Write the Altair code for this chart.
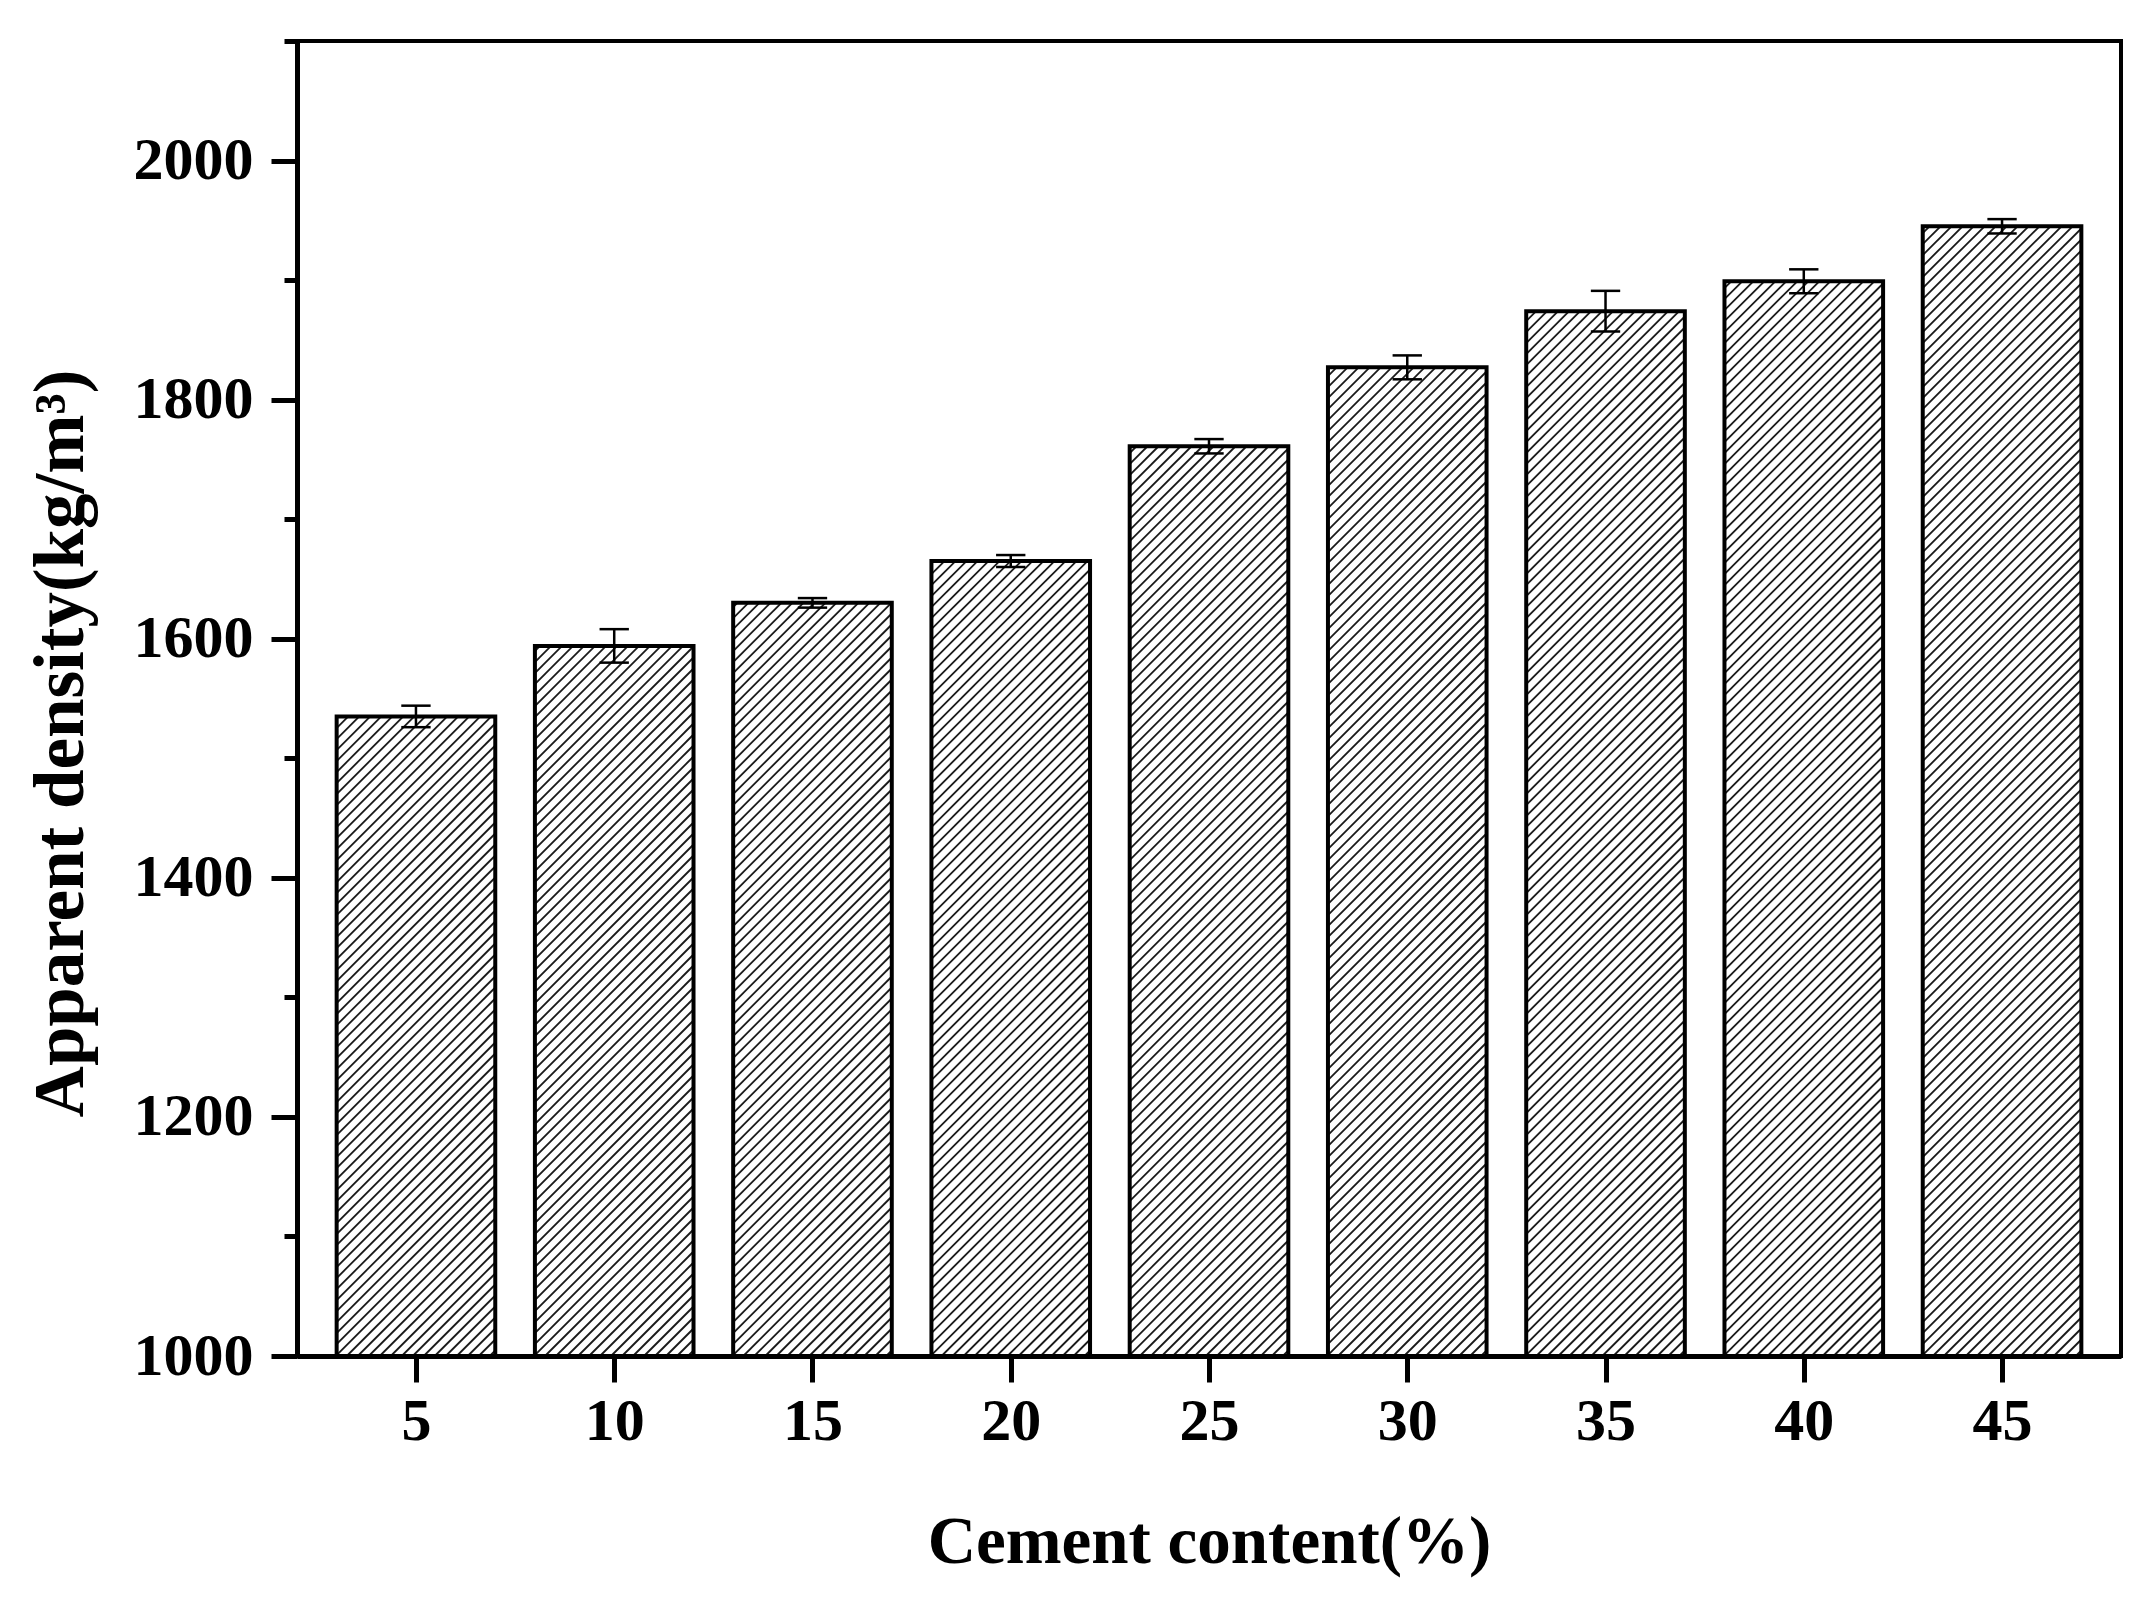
import altair as alt
import pandas as pd

# ---- data ----
cement = [5, 10, 15, 20, 25, 30, 35, 40, 45]
density = [1535, 1594, 1630, 1665, 1761, 1827, 1874, 1899, 1945]
error = [9, 14, 4, 5, 6, 10, 17, 10, 6]
y_major = [1000, 1200, 1400, 1600, 1800, 2000]
y_minor = [1100, 1300, 1500, 1700, 1900, 2100]

# ---- layout / style constants ----
W, H = 1824, 1315
X_DOM = [2, 48]
Y_DOM = [1000, 2100]
BAR_HALF = 2.0
CAP_HALF = 0.37
HATCH_SP = 11.0
FONT = "Liberation Serif"

px_x = W / (X_DOM[1] - X_DOM[0])
px_y = H / (Y_DOM[1] - Y_DOM[0])

bars = pd.DataFrame({"c": cement, "v": density, "e": error})
bars["x0"] = bars["c"] - BAR_HALF
bars["x1"] = bars["c"] + BAR_HALF
bars["lo"] = bars["v"] - bars["e"]
bars["hi"] = bars["v"] + bars["e"]
bars["cx0"] = bars["c"] - CAP_HALF
bars["cx1"] = bars["c"] + CAP_HALF
bars["base"] = Y_DOM[0]

# hatch segments ("/" at 45 deg in screen space), clipped to each bar
rows = []
for c, v in zip(cement, density):
    bw = 2 * BAR_HALF * px_x
    bh = (v - Y_DOM[0]) * px_y
    k = -bw + HATCH_SP / 2
    while k < bh:
        u0 = max(0.0, -k)
        u1 = min(bw, bh - k)
        if u1 - u0 > 1:
            rows.append({
                "hx": c - BAR_HALF + u0 / px_x,
                "hy": Y_DOM[0] + (u0 + k) / px_y,
                "hx2": c - BAR_HALF + u1 / px_x,
                "hy2": Y_DOM[0] + (u1 + k) / px_y,
            })
        k += HATCH_SP
hatch = pd.DataFrame(rows)

xs = alt.Scale(domain=X_DOM, nice=False, zero=False)
ys = alt.Scale(domain=Y_DOM, nice=False, zero=False)

x_axis = alt.Axis(
    values=cement, title="Cement content(%)", grid=False, format="d",
    tickSize=26, tickWidth=5, tickColor="black",
    domainWidth=5, domainColor="black",
    labelFont=FONT, labelFontSize=60, labelFontWeight="bold", labelColor="black",
    labelPadding=10,
    titleFont=FONT, titleFontSize=67, titleFontWeight="bold", titleColor="black",
    titleY=206, titleBaseline="alphabetic",
)
y_axis = alt.Axis(
    values=y_major, title="Apparent density(kg/m³)", grid=False, orient="left",
    format="d",
    tickSize=26, tickWidth=5, tickColor="black",
    domainWidth=5, domainColor="black",
    labelFont=FONT, labelFontSize=60, labelFontWeight="bold", labelColor="black",
    labelPadding=18,
    titleFont=FONT, titleFontSize=71, titleFontWeight="bold", titleColor="black",
    titleAngle=270, titleX=-215, titleY=702, titleBaseline="alphabetic",
    titleAlign="center",
)
y_minor_axis = alt.Axis(
    values=y_minor, title=None, grid=False, orient="left", labels=False,
    domain=False, tickSize=13, tickWidth=5, tickColor="black",
)

X = lambda f: alt.X(f, scale=xs, axis=x_axis)
base = alt.Chart(bars)

fill = base.mark_rect(fill="white", stroke=None).encode(
    x=X("x0:Q"), x2="x1:Q",
    y=alt.Y("v:Q", scale=ys, axis=y_axis), y2="base:Q",
)

hatch_layer = alt.Chart(hatch).mark_rule(color="#1a1a1a", strokeWidth=1.8).encode(
    x=X("hx:Q"), x2="hx2:Q",
    y=alt.Y("hy:Q", scale=ys, axis=None), y2="hy2:Q",
)

outline = base.mark_rect(fillOpacity=0, stroke="black", strokeWidth=4).encode(
    x=X("x0:Q"), x2="x1:Q",
    y=alt.Y("v:Q", scale=ys, axis=None), y2="base:Q",
)

err = base.mark_rule(color="black", strokeWidth=2.5).encode(
    x=X("c:Q"),
    y=alt.Y("lo:Q", scale=ys, axis=None), y2="hi:Q",
)
cap_hi = base.mark_rule(color="black", strokeWidth=2.5).encode(
    x=X("cx0:Q"), x2="cx1:Q",
    y=alt.Y("hi:Q", scale=ys, axis=None),
)
cap_lo = base.mark_rule(color="black", strokeWidth=2.5).encode(
    x=X("cx0:Q"), x2="cx1:Q",
    y=alt.Y("lo:Q", scale=ys, axis=None),
)

minor = base.mark_point(opacity=0).encode(
    x=X("c:Q"),
    y=alt.Y("v:Q", scale=ys, axis=y_minor_axis),
)

chart = (
    alt.layer(fill, hatch_layer, outline, err, cap_hi, cap_lo, minor)
    .resolve_axis(y="independent")
    .properties(
        width=W, height=H,
        autosize=alt.AutoSizeParams(type="none"),
        padding={"left": 289, "top": 33, "right": 10, "bottom": 230},
        background="white",
    )
    .configure_view(stroke="black", strokeWidth=4)
)

chart.save("out.html", embed_options={"renderer": "svg", "actions": False})
